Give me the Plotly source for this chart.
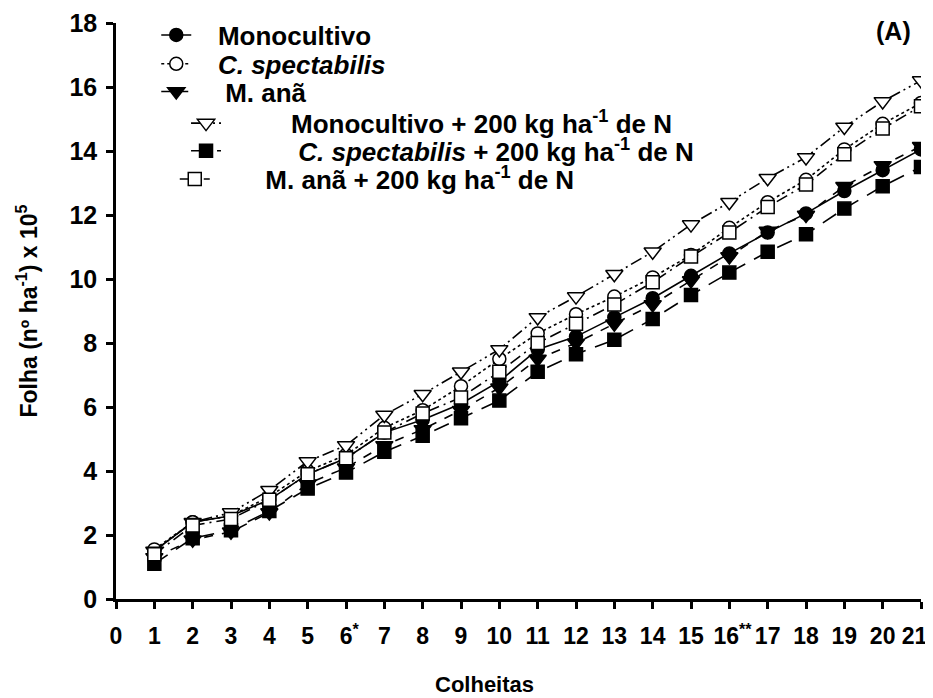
import plotly.graph_objects as go

colheitas = list(range(1, 22))
tick_vals = list(range(0, 22))
tick_text = [str(i) for i in range(0, 22)]
tick_text[6] = "\u00a06<sup>*</sup>"
tick_text[16] = "\u00a016<sup>**</sup>"
tick_text[21] = "21\u00a0\u00a0"
y_ticks = list(range(0, 19, 2))

monocultivo = [1.5, 2.4, 2.6, 3.1, 3.9, 4.4, 5.2, 5.6, 6.1, 6.8, 7.8, 8.2, 8.8, 9.4, 10.1, 10.8, 11.45, 12.05, 12.75, 13.4, 14.05]
c_spectabilis = [1.55, 2.4, 2.6, 3.2, 4.0, 4.5, 5.35, 5.9, 6.65, 7.5, 8.3, 8.9, 9.45, 10.05, 10.75, 11.6, 12.4, 13.1, 14.05, 14.85, 15.5]
m_ana = [1.3, 1.85, 2.1, 2.7, 3.6, 4.1, 4.8, 5.3, 5.9, 6.6, 7.5, 8.0, 8.6, 9.2, 9.95, 10.7, 11.5, 12.0, 12.9, 13.55, 14.15]
mono_n = [1.5, 2.4, 2.7, 3.4, 4.3, 4.8, 5.75, 6.4, 7.1, 7.8, 8.8, 9.45, 10.15, 10.85, 11.7, 12.4, 13.15, 13.8, 14.75, 15.55, 16.2]
c_spec_n = [1.1, 1.9, 2.15, 2.75, 3.45, 3.95, 4.6, 5.1, 5.65, 6.2, 7.1, 7.65, 8.1, 8.75, 9.5, 10.2, 10.85, 11.4, 12.2, 12.9, 13.5]
m_ana_n = [1.4, 2.3, 2.5, 3.1, 3.9, 4.4, 5.2, 5.8, 6.3, 7.1, 8.0, 8.6, 9.2, 9.9, 10.7, 11.45, 12.25, 12.95, 13.9, 14.7, 15.4]

NB = "\u00a0"
# name, values, dash, symbol, fill, legend x (paper), legend y (paper), nbsp pad
series = [
    ("Monocultivo", monocultivo, "solid", "circle", "black", 0.050, 0.979, 3),
    ("<i>C. spectabilis</i>", c_spectabilis, "dot", "circle", "white", 0.050, 0.929, 3),
    ("M. anã", m_ana, "dash", "triangle-down", "black", 0.050, 0.881, 4),
    ("Monocultivo + 200 kg ha<sup>-1</sup> de N", mono_n, "12px,4px,2px,4px,2px,4px", "triangle-down", "white", 0.087, 0.826, 9),
    ("<i>C. spectabilis</i> + 200 kg ha<sup>-1</sup> de N", c_spec_n, "16px,10px", "square", "black", 0.087, 0.778, 10),
    ("M. anã + 200 kg ha<sup>-1</sup> de N", m_ana_n, "12px,5px,2px,5px", "square", "white", 0.073, 0.729, 7),
]

font_family = "Liberation Sans, Arial, sans-serif"
fig = go.Figure()
layout_legends = {}
for i, (name, vals, dash, sym, fill, lx, ly, pad) in enumerate(series):
    key = "legend" if i == 0 else f"legend{i + 1}"
    fig.add_trace(go.Scatter(
        x=colheitas, y=vals, name=NB * pad + name, mode="lines+markers",
        legend=key,
        line=dict(color="black", width=1.6, dash=dash),
        marker=dict(symbol=sym, size=13 if sym != "triangle-down" else 15, color=fill,
                    line=dict(color="black", width=1.5)),
    ))
    layout_legends[key] = dict(x=lx, y=ly, xanchor="left", yanchor="middle",
                               bgcolor="rgba(0,0,0,0)", borderwidth=0,
                               font=dict(family=font_family, size=26, color="black", weight="bold"))

fig.update_layout(
    width=933, height=698,
    margin=dict(l=108, r=20, t=15, b=107, autoexpand=False),
    paper_bgcolor="white", plot_bgcolor="white",
    font=dict(family=font_family, size=24, color="black", weight="bold"),
    showlegend=True,
    annotations=[
        dict(text="(A)", x=0.99, y=0.986, xref="paper", yref="paper",
             xanchor="right", yanchor="middle", showarrow=False,
             font=dict(size=25, weight="bold")),
        dict(text="Colheitas", x=0.458, y=-0.148, xref="paper", yref="paper",
             xanchor="center", yanchor="middle", showarrow=False,
             font=dict(size=22, weight="bold")),
    ],
    **layout_legends,
)
fig.update_xaxes(
    range=[0, 21], tickvals=tick_vals, ticktext=tick_text, tickangle=0,
    showline=True, linecolor="black", linewidth=2.5, mirror=False, automargin=False,
    ticks="outside", ticklen=7, tickwidth=2.5, tickcolor="black",
    tickfont=dict(size=23, weight="bold"),
    showgrid=False, zeroline=False, ticklabelstandoff=8,
)
fig.update_yaxes(
    range=[0, 18], tickvals=y_ticks, automargin=False,
    showline=True, linecolor="black", linewidth=2.5,
    ticks="outside", ticklen=7, tickwidth=2.5, tickcolor="black",
    tickfont=dict(size=25, weight="bold"),
    showgrid=False, zeroline=False, ticklabelstandoff=4,
    title=dict(text="Folha (nº ha<sup>-1</sup>) x 10<sup>5</sup>", standoff=26,
               font=dict(size=23, weight="bold")),
)
fig.write_html("out.html")
